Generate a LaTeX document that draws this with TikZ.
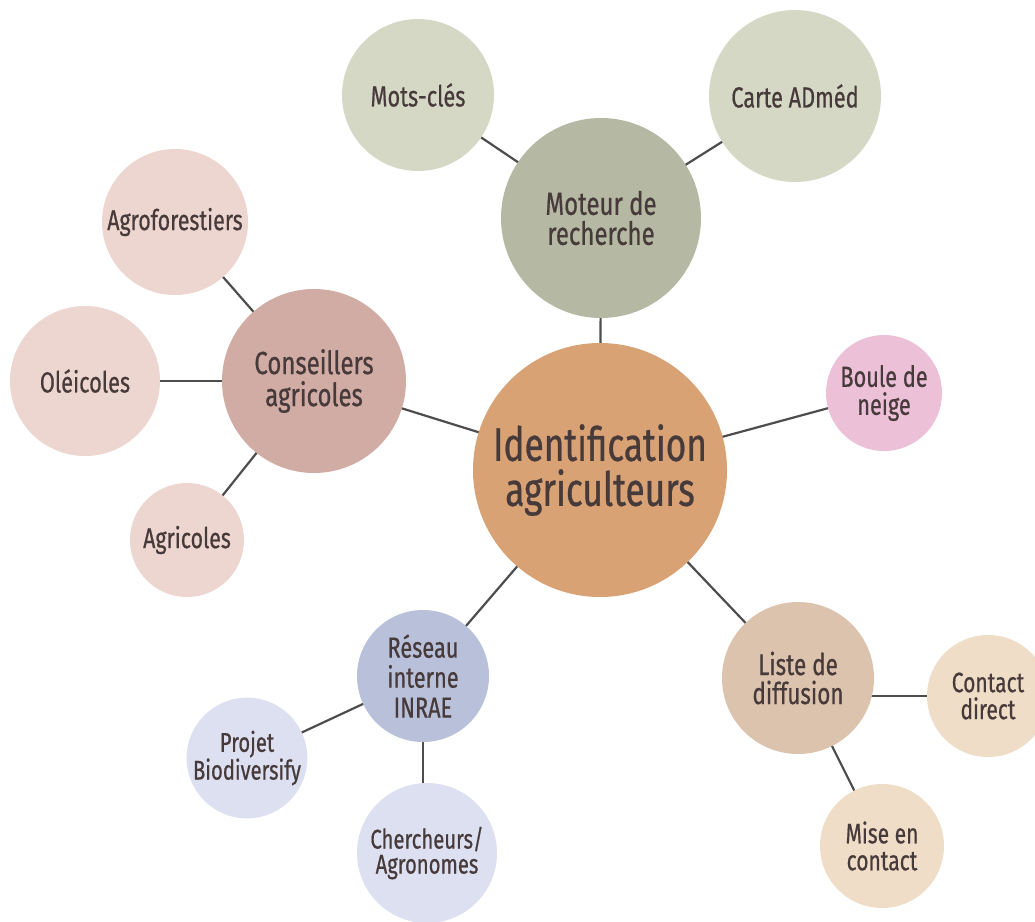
\documentclass[tikz,border=0pt]{standalone}
\usepackage{fontspec}
\setmainfont{Fira Sans}[FakeStretch=0.75, FakeBold=0.6]
\usetikzlibrary{backgrounds}
\definecolor{txt}{HTML}{473A3A}
\definecolor{lnk}{HTML}{4D4D4D}
\definecolor{cCenter}{HTML}{D8A274}
\definecolor{cMot}{HTML}{B5B8A3}
\definecolor{cMotL}{HTML}{D6D8C6}
\definecolor{cCons}{HTML}{D1ACA4}
\definecolor{cConsL}{HTML}{EDD6CF}
\definecolor{cBoule}{HTML}{ECC1D8}
\definecolor{cRes}{HTML}{B8C0DA}
\definecolor{cResL}{HTML}{DCE0F0}
\definecolor{cList}{HTML}{DCC3AE}
\definecolor{cListL}{HTML}{EFDDC8}
\begin{document}
\begin{tikzpicture}[x=1pt,y=-1pt,
  bub/.style={circle, fill=#1, draw=none, inner sep=0pt, text=txt, align=center},
  sz/.style 2 args={font=\fontsize{#1}{#2}\selectfont},
  link/.style={draw=lnk, line width=2.2pt}]
\useasboundingbox (0,0) rectangle (1035,921);
% central
\node[bub=cCenter, minimum size=254pt, sz={47}{45}] (c) at (600,470) {Identification\\agriculteurs};
% moteur
\node[bub=cMot, minimum size=200pt, sz={32}{30}] (mot) at (601,218) {Moteur de\\recherche};
\node[bub=cMotL, minimum size=152pt, sz={29}{29}] (cles) at (418,95) {Mots-clés};
\node[bub=cMotL, minimum size=172pt, sz={29}{29}] (carte) at (795,96) {Carte ADméd};
% conseillers
\node[bub=cCons, minimum size=184pt, sz={32}{32}] (cons) at (314,381) {Conseillers\\agricoles};
\node[bub=cConsL, minimum size=146pt, sz={28.5}{29}] (agrof) at (175,222) {Agroforestiers};
\node[bub=cConsL, minimum size=150pt, sz={29}{29}] (oleic) at (85,381) {Oléicoles};
\node[bub=cConsL, minimum size=114pt, sz={28.5}{29}] (agric) at (187,540) {Agricoles};
% boule
\node[bub=cBoule, minimum size=116pt, sz={29}{28}] (boule) at (884,393) {Boule de\\neige};
% reseau
\node[bub=cRes, minimum size=132pt, sz={29}{30}] (res) at (423,676) {Réseau\\interne\\INRAE};
\node[bub=cResL, minimum size=118pt, sz={27}{25}] (proj) at (247,758) {Projet\\Biodiversify};
\node[bub=cResL, minimum size=140pt, sz={27}{25}] (cherch) at (427,853) {Chercheurs/\\Agronomes};
% liste
\node[bub=cList, minimum size=152pt, sz={30}{29}] (liste) at (798,678) {Liste de\\diffusion};
\node[bub=cListL, minimum size=122pt, sz={28}{27}] (direct) at (988,696) {Contact\\direct};
\node[bub=cListL, minimum size=124pt, sz={28}{27}] (mise) at (882,846) {Mise en\\contact};
\begin{scope}[on background layer]
\draw[link] (c.center) -- (mot.center);
\draw[link] (mot.center) -- (cles.center);
\draw[link] (mot.center) -- (carte.center);
\draw[link] (c.center) -- (cons.center);
\draw[link] (cons.center) -- (agrof.center);
\draw[link] (cons.center) -- (oleic.center);
\draw[link] (cons.center) -- (agric.center);
\draw[link] (c.center) -- (boule.center);
\draw[link] (c.center) -- (res.center);
\draw[link] (res.center) -- (proj.center);
\draw[link] (res.center) -- (res.center |- cherch.center);
\draw[link] (c.center) -- (liste.center);
\draw[link] (direct.center) -- (direct.center -| liste.center);
\draw[link] (liste.center) -- (mise.center);
\end{scope}
\end{tikzpicture}
\end{document}
